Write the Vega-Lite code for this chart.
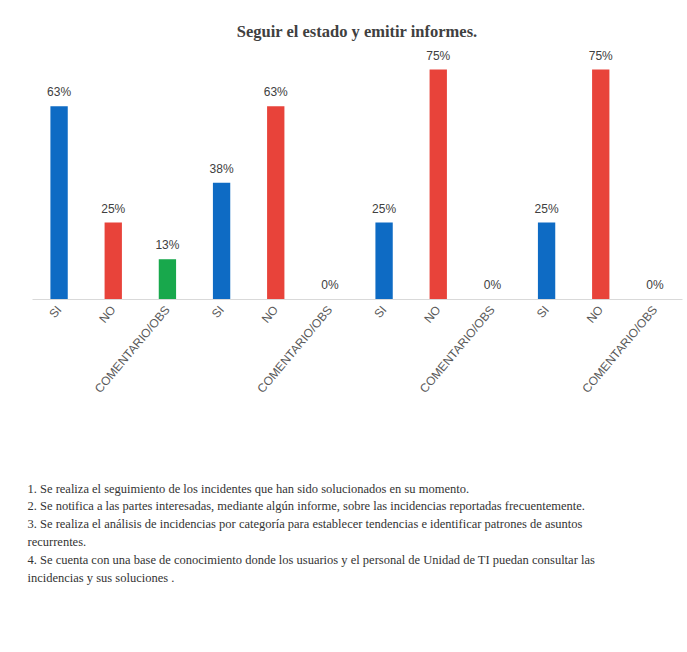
{
  "$schema": "https://vega.github.io/schema/vega-lite/v6.json",
  "autosize": {"type": "none"},
  "width": 650,
  "height": 260,
  "padding": {"left": 32, "top": 39, "right": 5, "bottom": 353},
  "background": "white",
  "title": {
    "text": "Seguir el estado y emitir informes.",
    "font": "Liberation Serif",
    "fontSize": 16.5,
    "fontWeight": "bold",
    "color": "#404040",
    "anchor": "middle",
    "offset": -1
  },
  "data": {
    "values": [
      {"cat": "1|SI", "respuesta": "SI", "valor": 0.63},
      {"cat": "1|NO", "respuesta": "NO", "valor": 0.25},
      {"cat": "1|COMENTARIO/OBS", "respuesta": "COMENTARIO/OBS", "valor": 0.13},
      {"cat": "2|SI", "respuesta": "SI", "valor": 0.38},
      {"cat": "2|NO", "respuesta": "NO", "valor": 0.63},
      {"cat": "2|COMENTARIO/OBS", "respuesta": "COMENTARIO/OBS", "valor": 0},
      {"cat": "3|SI", "respuesta": "SI", "valor": 0.25},
      {"cat": "3|NO", "respuesta": "NO", "valor": 0.75},
      {"cat": "3|COMENTARIO/OBS", "respuesta": "COMENTARIO/OBS", "valor": 0},
      {"cat": "4|SI", "respuesta": "SI", "valor": 0.25},
      {"cat": "4|NO", "respuesta": "NO", "valor": 0.75},
      {"cat": "4|COMENTARIO/OBS", "respuesta": "COMENTARIO/OBS", "valor": 0}
    ]
  },
  "encoding": {
    "x": {
      "field": "cat",
      "type": "nominal",
      "sort": null,
      "scale": {"paddingInner": 0.68, "paddingOuter": 0.34},
      "axis": {
        "labelExpr": "split(datum.value, '|')[1]",
        "labelAngle": -50,
        "labelFont": "Liberation Sans",
        "labelFontSize": 12,
        "labelColor": "#595959",
        "labelPadding": 8,
        "ticks": false,
        "domainColor": "#d9d9d9",
        "domainWidth": 1,
        "title": [
          "1. Se realiza el seguimiento de los incidentes que han sido solucionados en su momento.",
          "2. Se notifica a las partes interesadas, mediante algún  informe, sobre las incidencias reportadas frecuentemente.",
          "3. Se realiza el análisis de incidencias por categoría para establecer tendencias e identificar patrones de asuntos",
          "recurrentes.",
          "4. Se cuenta con una base de conocimiento donde los usuarios y el personal de Unidad de TI puedan consultar las",
          "incidencias y sus soluciones ."
        ],
        "titleFont": "Liberation Serif",
        "titleFontSize": 12.5,
        "titleFontWeight": "normal",
        "titleColor": "#333333",
        "titleAnchor": "start",
        "titleAlign": "left",
        "titleBaseline": "top",
        "titleLineHeight": 17.8,
        "titleX": -5,
        "titleY": 183
      }
    },
    "y": {
      "field": "valor",
      "type": "quantitative",
      "scale": {"domain": [0, 0.85]},
      "axis": null
    }
  },
  "layer": [
    {
      "mark": {"type": "bar"},
      "encoding": {
        "color": {
          "field": "respuesta",
          "type": "nominal",
          "scale": {
            "domain": ["SI", "NO", "COMENTARIO/OBS"],
            "range": ["#0e6bc4", "#e8433a", "#18a84c"]
          },
          "legend": null
        }
      }
    },
    {
      "mark": {
        "type": "text",
        "dy": -14,
        "font": "Liberation Sans",
        "fontSize": 12,
        "color": "#404040"
      },
      "encoding": {
        "text": {"field": "valor", "type": "quantitative", "format": ".0%"}
      }
    }
  ],
  "config": {
    "view": {"stroke": null}
  }
}
